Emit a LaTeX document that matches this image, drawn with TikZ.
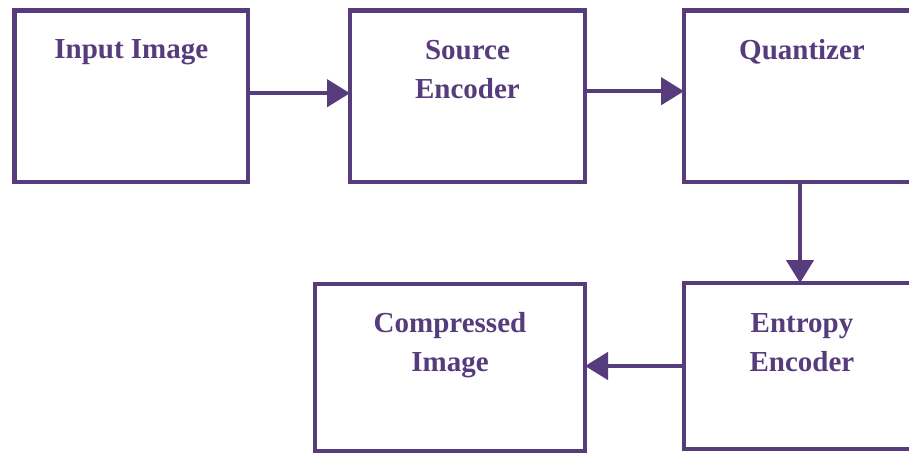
\documentclass[tikz,border=0pt]{standalone}
\usepackage{fontspec}
\setmainfont{Liberation Serif}
\usetikzlibrary{arrows.meta}
\definecolor{pur}{HTML}{563C7C}
\begin{document}
\begin{tikzpicture}[x=1pt,y=-1pt,
  blk/.style={draw=pur, line width=4.5pt, rectangle, inner sep=0pt, outer sep=0pt},
  lbl/.style={text=pur, font=\bfseries\fontsize{29}{39}\selectfont, align=center, inner sep=0pt, anchor=base},
  arr/.style={draw=pur, line width=4.5pt, -{Triangle[length=23pt,width=27pt]}}]
\useasboundingbox[fill=white] (0,0) rectangle (909,453);
\clip (0,0) rectangle (909,453);
% boxes
\node[blk, minimum width=233.3pt, minimum height=171.5pt] (in)  at (131.3,96.2) {};
\node[blk, minimum width=235pt,   minimum height=171.5pt] (src) at (467.5,96.2) {};
\node[blk, minimum width=236pt,   minimum height=171.5pt] (qua) at (802,96.2) {};
\node[blk, minimum width=236pt,   minimum height=166pt]   (ent) at (802,366) {};
\node[blk, minimum width=270pt,   minimum height=167pt]   (cmp) at (450,367.5) {};
% labels (base anchor = baseline of the last line)
\node[lbl] (inT)  at ([yshift=-48pt]in.north)  {Input Image};
\node[lbl] (srcT) at ([yshift=-88pt]src.north) {Source\\Encoder};
\node[lbl] (quaT) at ([yshift=-49pt]qua.north) {Quantizer};
\node[lbl] (entT) at ([yshift=-88pt]ent.north) {Entropy\\Encoder};
\node[lbl] (cmpT) at ([yshift=-87pt]cmp.north) {Compressed\\Image};
% connectors
\draw[arr] ([yshift=3pt]in.east) -- ([yshift=3pt]src.west);
\draw[arr] ([yshift=5pt]src.east) -- ([yshift=5pt]qua.west);
\draw[arr] ([xshift=-2pt]qua.south) -- ([xshift=-2pt]ent.north);
\draw[arr] (ent.west) -- (ent.west -| cmp.east);
\end{tikzpicture}
\end{document}
